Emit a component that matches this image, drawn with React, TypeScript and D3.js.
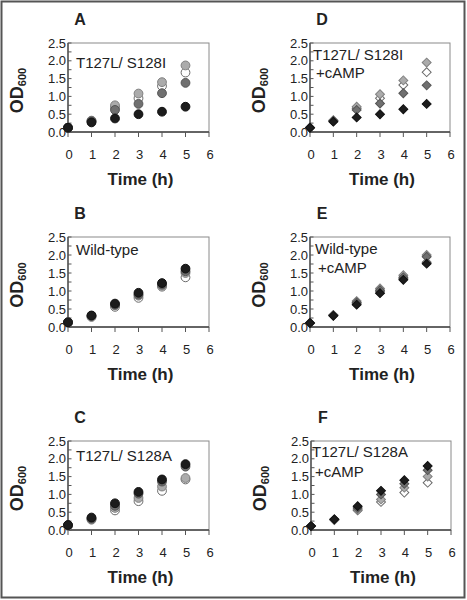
import React from "react";
import * as d3 from "d3";

const times = [0, 1, 2, 3, 4, 5];
const yTicks = [0, 0.5, 1.0, 1.5, 2.0, 2.5];
const yMinorTicks = [0, 0.25, 0.5, 0.75, 1.0, 1.25, 1.5, 1.75, 2.0, 2.25, 2.5];
const xTicks = [0, 1, 2, 3, 4, 5, 6];

const seriesNames = ["white", "light", "dark", "black"];

// Panel A: T127L/ S128I (circles)
const aWhite = [0.12, 0.31, 0.69, 0.95, 1.29, 1.67];
const aLight = [0.12, 0.32, 0.75, 1.08, 1.40, 1.87];
const aDark = [0.12, 0.30, 0.62, 0.79, 1.09, 1.38];
const aBlack = [0.12, 0.27, 0.38, 0.50, 0.57, 0.71];

// Panel B: Wild-type (circles)
const bWhite = [0.12, 0.28, 0.56, 0.81, 1.12, 1.38];
const bLight = [0.13, 0.30, 0.60, 0.87, 1.15, 1.50];
const bDark = [0.13, 0.31, 0.62, 0.90, 1.18, 1.55];
const bBlack = [0.13, 0.32, 0.65, 0.95, 1.22, 1.62];

// Panel C: T127L/ S128A (circles)
const cWhite = [0.12, 0.29, 0.55, 0.81, 1.10, 1.42];
const cLight = [0.13, 0.31, 0.62, 0.90, 1.22, 1.46];
const cDark = [0.13, 0.32, 0.68, 1.02, 1.36, 1.78];
const cBlack = [0.14, 0.35, 0.75, 1.07, 1.42, 1.85];

// Panel D: T127L/ S128I +cAMP (diamonds)
const dWhite = [0.12, 0.32, 0.67, 0.95, 1.32, 1.68];
const dLight = [0.12, 0.33, 0.71, 1.06, 1.45, 1.95];
const dDark = [0.12, 0.31, 0.62, 0.80, 1.09, 1.31];
const dBlack = [0.12, 0.29, 0.41, 0.50, 0.64, 0.79];

// Panel E: Wild-type +cAMP (diamonds)
const eWhite = [0.11, 0.32, 0.66, 0.98, 1.35, 1.80];
const eLight = [0.11, 0.33, 0.72, 1.07, 1.44, 2.00];
const eDark = [0.11, 0.33, 0.68, 1.02, 1.38, 1.95];
const eBlack = [0.11, 0.31, 0.62, 0.94, 1.31, 1.76];

// Panel F: T127L/ S128A +cAMP (diamonds)
const fWhite = [0.11, 0.28, 0.55, 0.79, 1.05, 1.33];
const fLight = [0.11, 0.29, 0.58, 0.86, 1.19, 1.50];
const fDark = [0.11, 0.30, 0.62, 1.00, 1.30, 1.68];
const fBlack = [0.11, 0.30, 0.67, 1.10, 1.40, 1.80];

const panelLetters = ["A", "B", "C", "D", "E", "F"];
const panelTitles = [
  ["T127L/ S128I"],
  ["Wild-type"],
  ["T127L/ S128A"],
  ["T127L/ S128I", "+cAMP"],
  ["Wild-type", "+cAMP"],
  ["T127L/ S128A", "+cAMP"],
];
const panelData = [
  [aWhite, aLight, aDark, aBlack],
  [bWhite, bLight, bDark, bBlack],
  [cWhite, cLight, cDark, cBlack],
  [dWhite, dLight, dDark, dBlack],
  [eWhite, eLight, eDark, eBlack],
  [fWhite, fLight, fDark, fBlack],
];
const panelShapes = ["circle", "circle", "circle", "diamond", "diamond", "diamond"];

// styles
const fills: Record<string, string> = {
  white: "#ffffff",
  light: "#ababab",
  dark: "#707070",
  black: "#1c1c1c",
};
const strokes: Record<string, string> = {
  white: "#6a6a6a",
  light: "#808080",
  dark: "#555555",
  black: "#111111",
};

// layout
const layout = [
  { left: 68, top: 43, w: 141, h: 89, textDx: 8, textDy: [25] },
  { left: 68, top: 237, w: 141, h: 90, textDx: 8, textDy: [18] },
  { left: 68, top: 441, w: 141, h: 89, textDx: 8, textDy: [20] },
  { left: 310, top: 43, w: 140, h: 89, textDx: 3, textDy: [17, 35] },
  { left: 310, top: 237, w: 140, h: 90, textDx: 5, textDy: [17, 36] },
  { left: 311, top: 441, w: 140, h: 89, textDx: 1, textDy: [16, 36] },
];

const FONT = "'Liberation Sans', Arial, sans-serif";

function Panel({ idx }: { idx: number }) {
  const L = layout[idx];
  const x = d3.scaleLinear().domain([0, 6]).range([L.left, L.left + L.w]);
  const y = d3.scaleLinear().domain([0, 2.5]).range([L.top + L.h, L.top]);
  const bottom = L.top + L.h;
  const shape = panelShapes[idx];
  const diamond = d3.symbol().type(d3.symbolSquare).size(40)();
  return (
    <g>
      {/* box */}
      <rect x={L.left} y={L.top} width={L.w} height={L.h} fill="none" stroke="#8a8a8a" strokeWidth={1} />
      {/* axes */}
      <line x1={L.left} x2={L.left} y1={L.top} y2={bottom} stroke="#444" strokeWidth={1.3} />
      <line x1={L.left} x2={L.left + L.w} y1={bottom} y2={bottom} stroke="#444" strokeWidth={1.3} />
      {yMinorTicks.map((t) => (
        <line key={"ym" + t} x1={L.left} x2={L.left + 3.5} y1={y(t)} y2={y(t)} stroke="#555" strokeWidth={1} />
      ))}
      {xTicks.map((t) => (
        <line key={"xt" + t} x1={x(t)} x2={x(t)} y1={bottom} y2={bottom + 5} stroke="#555" strokeWidth={1} />
      ))}
      {yTicks.map((t) => (
        <text key={"yl" + t} x={L.left - 2} y={y(t)} dy="0.36em" textAnchor="end" fontFamily={FONT} fontSize={13} fill="#222">
          {t.toFixed(1)}
        </text>
      ))}
      {xTicks.map((t) => (
        <text key={"xl" + t} x={x(t) + 1} y={bottom + 27} textAnchor="middle" fontFamily={FONT} fontSize={13} fill="#222">
          {t}
        </text>
      ))}
      {/* axis titles */}
      <text x={(L.left + L.left + L.w) / 2 + 2} y={bottom + 53} textAnchor="middle" fontFamily={FONT} fontSize={17} fontWeight="bold" fill="#222">
        Time (h)
      </text>
      <text transform={`translate(${L.left - 45},${L.top + L.h / 2 + 3}) rotate(-90)`} textAnchor="middle" fontFamily={FONT} fontWeight="bold" fill="#222">
        <tspan fontSize={18}>OD</tspan>
        <tspan fontSize={11} dy={3}>600</tspan>
      </text>
      {/* panel letter */}
      <text x={L.left + 12} y={L.top - 18} textAnchor="middle" fontFamily={FONT} fontSize={16} fontWeight="bold" fill="#222">
        {panelLetters[idx]}
      </text>
      {/* inner title */}
      {panelTitles[idx].map((s, i) => (
        <text key={"tt" + i} x={L.left + L.textDx + (i > 0 ? 3 : 0)} y={L.top + L.textDy[i]} fontFamily={FONT} fontSize={15} fill="#222">
          {s}
        </text>
      ))}
      {/* data */}
      {panelData[idx].map((vals, si) => {
        const name = seriesNames[si];
        return (
          <g key={"s" + si}>
            {vals.map((v, ti) =>
              shape === "circle" ? (
                <circle key={ti} cx={x(times[ti])} cy={y(v)} r={4.4} fill={fills[name]} stroke={strokes[name]} strokeWidth={1} />
              ) : (
                <path
                  key={ti}
                  d={diamond as string}
                  transform={`translate(${x(times[ti])},${y(v)}) rotate(45)`}
                  fill={fills[name]}
                  stroke={strokes[name]}
                  strokeWidth={1}
                />
              )
            )}
          </g>
        );
      })}
    </g>
  );
}

export default function App() {
  return (
    <svg width={467} height={600} style={{ position: "absolute", left: 0, top: 0, background: "#fff" }}>
      <rect x={0} y={0} width={467} height={600} fill="#fff" />
      <rect x={1.5} y={1.5} width={463} height={596} fill="none" stroke="#555" strokeWidth={2} />
      {layout.map((_, i) => (
        <Panel key={i} idx={i} />
      ))}
    </svg>
  );
}
